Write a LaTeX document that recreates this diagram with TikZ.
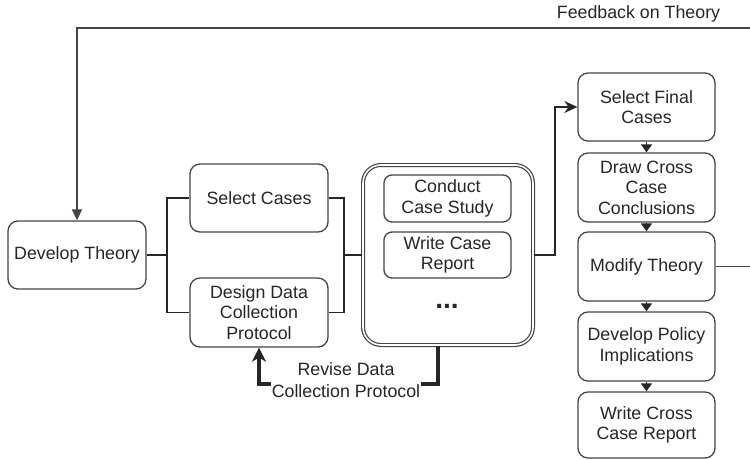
\documentclass[tikz,border=0pt]{standalone}
\usepackage{fontspec}
\setmainfont{Liberation Sans}
\usetikzlibrary{arrows.meta}
\definecolor{ink}{HTML}{262626}
\definecolor{edge}{HTML}{454545}
\begin{document}
\begin{tikzpicture}[x=1pt,y=-1pt,
  font=\fontsize{17.8}{20.5}\selectfont,
  every node/.style={text=ink},
  stage/.style={draw=edge, line width=1.3pt, rounded corners=10pt, fill=white,
    align=center, inner sep=2pt, minimum width=#1},
  stage/.default=138pt,
  link/.style={draw=ink, line width=1.7pt},
  flow/.style={link, -{Triangle[length=8pt,width=11pt]}},
  loop/.style={draw=ink, line width=3.2pt, line cap=butt,
    -{Stealth[length=14pt,width=14pt,inset=4pt]}}]
\useasboundingbox (0,0) rectangle (750,460);

% first phase
\node[stage, minimum height=68pt] (dev) at (77,255) {Develop Theory};
\node[stage, minimum height=68pt] (sel) at (259,198) {Select Cases};
\node[stage, minimum height=69pt] (dcp) at (259,312.5) {Design Data\\Collection\\Protocol};

% case study container
\node[draw=edge, line width=1.2pt, double=white, double distance=1.6pt,
  rounded corners=18pt, minimum width=170pt, minimum height=180pt] (study) at (448,255) {};
\node[stage=127pt, minimum height=47pt, rounded corners=8pt] (conduct) at (447.5,198.5) {Conduct\\Case Study};
\node[stage=127pt, minimum height=46pt, rounded corners=8pt] (report) at (447.5,255) {Write Case\\Report};
\node[font=\fontsize{28}{28}\selectfont\bfseries] (dots) at (447,306) {...};

% cross-case phase
\node[stage=137pt, minimum height=68pt] (final) at (646.5,107) {Select Final\\Cases};
\node[stage=137pt, minimum height=69pt] (concl) at (646.5,187.5) {Draw Cross\\Case\\Conclusions};
\node[stage=137pt, minimum height=69pt] (modify) at (646.5,266.5) {Modify Theory};
\node[stage=137pt, minimum height=69pt] (policy) at (646.5,346.5) {Develop Policy\\Implications};
\node[stage=137pt, minimum height=66pt] (cross) at (646.5,425) {Write Cross\\Case Report};

% branching brackets
\coordinate (split) at (167,255);
\coordinate (join) at (344,255);
\draw[link] (dev.east) -- (split);
\draw[link] (sel.west) -| (split) |- (dcp.west);
\draw[link] (sel.east) -| (join) |- (dcp.east);
\draw[link] (join) -- (study.west);

% on to the final cases
\coordinate (rise) at (555,255);
\draw[link, -{Stealth[length=13pt,width=12pt]}] (study.east) -- (rise) |- (final.west);

% sequence in the right column
\draw[flow] (final) -- (concl);
\draw[flow] (concl) -- (modify);
\draw[flow] (modify) -- (policy);
\draw[flow] (policy) -- (cross);

% feedback loop to theory
\coordinate (fbR) at (765,266.5);
\coordinate (fbT) at (765,28);
\coordinate (fbL) at (77,28);
\draw[draw=edge, line width=1.8pt, -{Triangle[length=11pt,width=10pt]}]
  (modify.east) -- (fbR) -- (fbT) -- (fbL) -- (dev.north);
\node[anchor=base] (fbtext) at (638.5,19) {Feedback on Theory};

% revision loop for the protocol
\coordinate (revR) at (438,384);
\coordinate (revL) at (259,384);
\draw[loop] (study.south -| revR) -- (revR) -- (revL) -- (dcp.south);
\node[fill=white, align=center, inner sep=1pt,
  font=\fontsize{17.8}{21.5}\selectfont] (revise) at (346,380) {Revise Data\\Collection Protocol};
\end{tikzpicture}
\end{document}
